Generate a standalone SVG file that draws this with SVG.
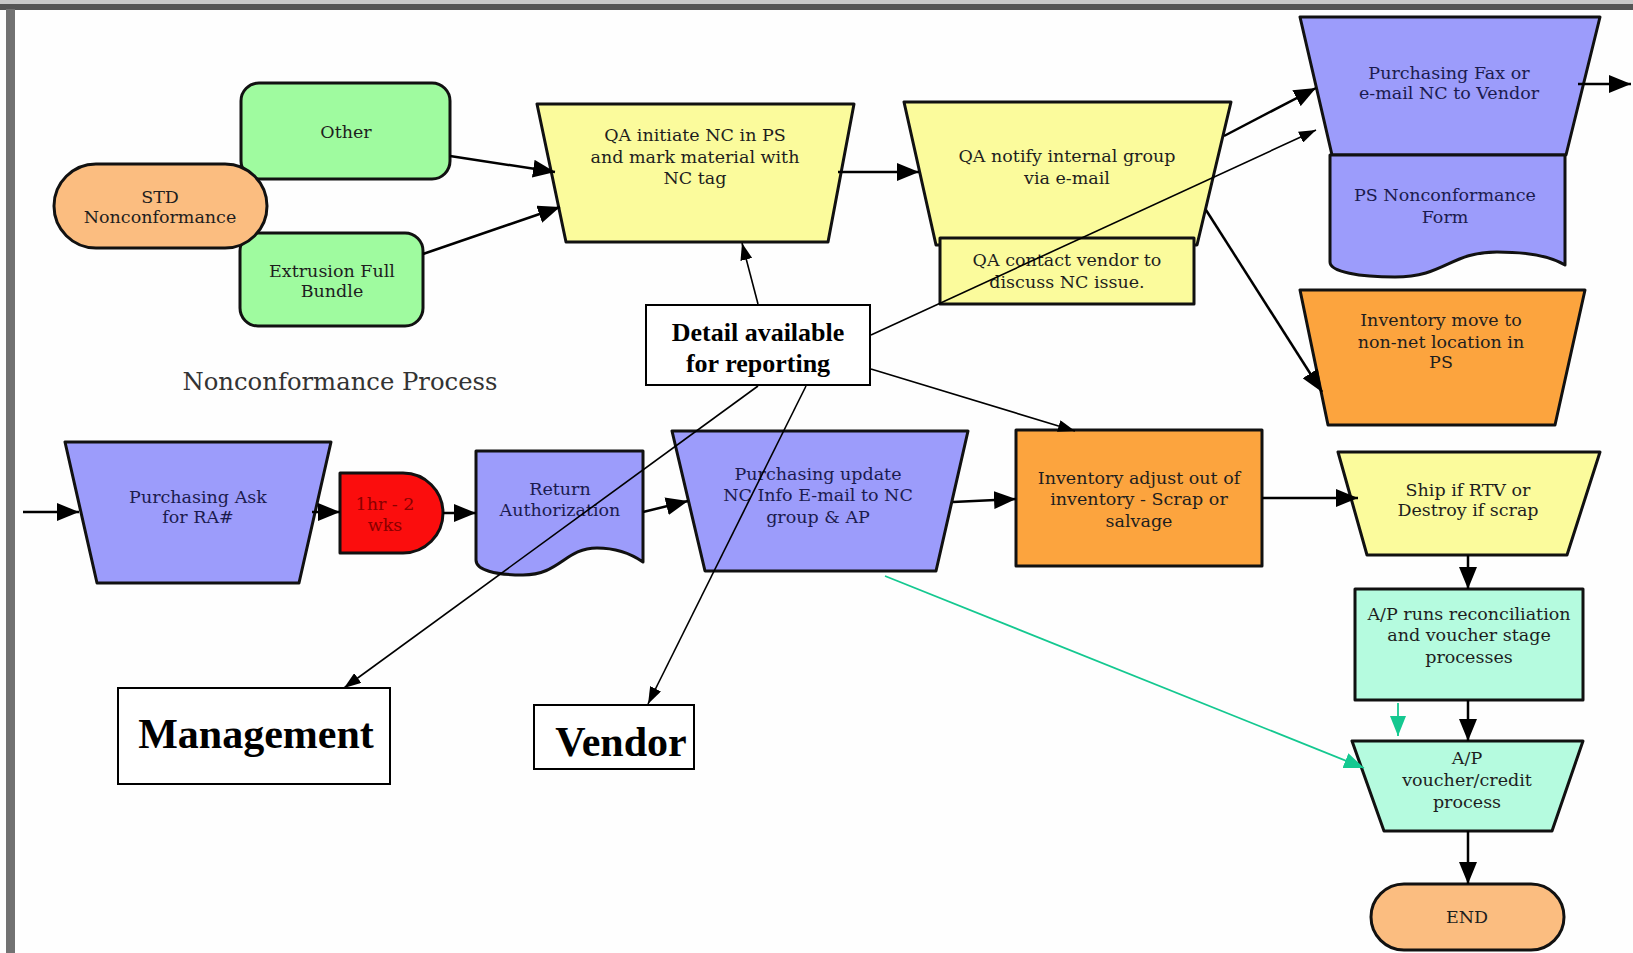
<svg xmlns="http://www.w3.org/2000/svg" width="1633" height="953" viewBox="0 0 1633 953">
<style>
.n{stroke:#111;stroke-width:3;stroke-linejoin:round}
.t{font-family:"DejaVu Serif","Liberation Serif",serif;font-size:17.5px;fill:#1e1e1e;text-anchor:middle}
.tp{fill:#1b1b4e}
.b{font-family:"Liberation Serif","Times New Roman",serif;font-weight:bold;fill:#000;text-anchor:middle}
.c{fill:none;stroke:#000;stroke-width:2.5}
.d{fill:none;stroke:#000;stroke-width:1.6}
.g{fill:none;stroke:#14c890;stroke-width:1.8}
.grn{fill:#9ffb9f}.org{fill:#fbbd80}.yel{fill:#fbfb9c}.pur{fill:#9c9cfb}.inv{fill:#fca43e}.mnt{fill:#b5fbdf}
</style>
<defs>
<marker id="ab" markerUnits="userSpaceOnUse" markerWidth="22" markerHeight="18" refX="22" refY="9" orient="auto"><path d="M0,0 L22,9 L0,18 Z" fill="#000"/></marker>
<marker id="as" markerUnits="userSpaceOnUse" markerWidth="17" markerHeight="12" refX="17" refY="6" orient="auto"><path d="M0,0 L17,6 L0,12 Z" fill="#000"/></marker>
<marker id="ag" markerUnits="userSpaceOnUse" markerWidth="20" markerHeight="16" refX="20" refY="8" orient="auto"><path d="M0,0 L20,8 L0,16 Z" fill="#14c890"/></marker>
</defs>
<rect x="0" y="0" width="1633" height="953" fill="#fefefe"/>
<rect x="0" y="0" width="1633" height="4" fill="#c9c9c9"/>
<rect x="0" y="4" width="1633" height="6" fill="#555"/>
<rect x="6" y="9" width="9" height="944" fill="#727272"/>

<g id="other"><rect class="n grn" x="241" y="83" width="209" height="96" rx="18"/><text class="t" x="346" y="138">Other</text></g>
<g id="extrusion"><rect class="n grn" x="240" y="233" width="183" height="93" rx="18"/><text class="t" x="332" y="277">Extrusion Full</text><text class="t" x="332" y="297">Bundle</text></g>
<g id="std"><rect class="n org" x="54" y="164" width="213" height="84" rx="42"/><text class="t" x="160" y="203">STD</text><text class="t" x="160" y="223">Nonconformance</text></g>

<g id="qa-initiate"><polygon class="n yel" points="537,104 854,104 828,242 566,242"/><text class="t" x="695" y="141">QA initiate NC in PS</text><text class="t" x="695" y="163">and mark material with</text><text class="t" x="695" y="184">NC tag</text></g>
<g id="qa-notify"><polygon class="n yel" points="904,102 1231,102 1197,245 936,245"/><text class="t" x="1067" y="162">QA notify internal group</text><text class="t" x="1067" y="184">via e-mail</text></g>
<g id="qa-contact"><rect class="n yel" x="940" y="238" width="254" height="66"/><text class="t" x="1067" y="266">QA contact vendor to</text><text class="t" x="1067" y="288">discuss NC issue.</text></g>

<g id="purchasing-fax"><polygon class="n pur" points="1300,17 1600,17 1566,155 1332,155"/><text class="t tp" x="1449" y="79">Purchasing Fax or</text><text class="t tp" x="1449" y="99">e-mail NC to Vendor</text></g>
<g id="ps-form"><path class="n pur" d="M1330,155 H1565 V265 C1550,256 1525,252 1497,252 C1450,252 1445,277 1395,277 C1360,277 1330,272 1330,262 Z"/><text class="t tp" x="1445" y="201">PS Nonconformance</text><text class="t tp" x="1445" y="223">Form</text></g>
<g id="inventory-move"><polygon class="n inv" points="1300,290 1585,290 1555,425 1328,425"/><text class="t" x="1441" y="326">Inventory move to</text><text class="t" x="1441" y="348">non-net location in</text><text class="t" x="1441" y="368">PS</text></g>

<g id="title"><text x="340" y="390" style="font-family:'DejaVu Serif','Liberation Serif',serif;font-size:24.3px;fill:#333;text-anchor:middle">Nonconformance Process</text></g>

<g id="detail"><rect x="646" y="305" width="224" height="80" fill="#fff" stroke="#000" stroke-width="2"/><text class="b" x="758" y="341" font-size="26">Detail available</text><text class="b" x="758" y="372" font-size="26">for reporting</text></g>

<g id="purchasing-ask"><polygon class="n pur" points="65,442 331,442 299,583 97,583"/><text class="t tp" x="198" y="503">Purchasing Ask</text><text class="t tp" x="198" y="523">for RA#</text></g>
<g id="delay"><path class="n" fill="#fb0d0d" d="M340,473 H403 A40,40 0 0 1 403,553 H340 Z"/><text class="t" x="385" y="510" style="fill:#8a0000">1hr - 2</text><text class="t" x="385" y="531" style="fill:#8a0000">wks</text></g>
<g id="return-auth"><path class="n pur" d="M476,451 H643 V562 C630,553 615,548 597,548 C565,548 560,575 523,575 C495,575 476,570 476,560 Z"/><text class="t tp" x="560" y="495">Return</text><text class="t tp" x="560" y="516">Authorization</text></g>
<g id="purchasing-update"><polygon class="n pur" points="672,431 968,431 936,571 705,571"/><text class="t tp" x="818" y="480">Purchasing  update</text><text class="t tp" x="818" y="501">NC Info E-mail to NC</text><text class="t tp" x="818" y="523">group &amp; AP</text></g>
<g id="inventory-adjust"><rect class="n inv" x="1016" y="430" width="246" height="136"/><text class="t" x="1139" y="484">Inventory adjust out of</text><text class="t" x="1139" y="505">inventory - Scrap or</text><text class="t" x="1139" y="527">salvage</text></g>
<g id="ship"><polygon class="n yel" points="1338,452 1600,452 1567,555 1367,555"/><text class="t" x="1468" y="496">Ship if RTV or</text><text class="t" x="1468" y="516">Destroy if scrap</text></g>
<g id="ap-runs"><rect class="n mnt" x="1355" y="589" width="228" height="111"/><text class="t" x="1469" y="620">A/P runs reconciliation</text><text class="t" x="1469" y="641">and voucher stage</text><text class="t" x="1469" y="663">processes</text></g>
<g id="ap-voucher"><polygon class="n mnt" points="1352,741 1583,741 1552,831 1384,831"/><text class="t" x="1467" y="764">A/P</text><text class="t" x="1467" y="786">voucher/credit</text><text class="t" x="1467" y="808">process</text></g>
<g id="end"><rect class="n org" x="1371" y="884" width="193" height="66" rx="33"/><text class="t" x="1467" y="923">END</text></g>

<g id="management"><rect x="118" y="688" width="272" height="96" fill="#fff" stroke="#000" stroke-width="2"/><text class="b" x="256" y="748" font-size="42">Management</text></g>
<g id="vendor"><rect x="534" y="705" width="160" height="64" fill="#fff" stroke="#000" stroke-width="2"/><text class="b" x="621" y="756" font-size="42">Vendor</text></g>

<g id="connectors">
<path class="c" d="M450,156 L555,172" marker-end="url(#ab)"/>
<path class="c" d="M423,254 L560,207" marker-end="url(#ab)"/>
<path class="c" d="M838,172 L919,172" marker-end="url(#ab)"/>
<path class="c" d="M1224,136 L1316,88" marker-end="url(#ab)"/>
<path class="c" d="M1206,210 L1322,392" marker-end="url(#ab)"/>
<path class="c" d="M1578,84 L1631,84" marker-end="url(#ab)"/>
<path class="d" d="M758,304 L742,243" marker-end="url(#as)"/>
<path class="d" d="M871,335 L1316,130" marker-end="url(#as)"/>
<path class="d" d="M871,369 L1075,431" marker-end="url(#as)"/>
<path class="d" d="M758,386 L344,688" marker-end="url(#as)"/>
<path class="d" d="M806,386 L648,704" marker-end="url(#as)"/>
<path class="c" d="M23,512 L79,512" marker-end="url(#ab)"/>
<path class="c" d="M312,512 L340,512" marker-end="url(#ab)"/>
<path class="c" d="M443,513 L476,513" marker-end="url(#ab)"/>
<path class="c" d="M643,512 L688,501" marker-end="url(#ab)"/>
<path class="c" d="M953,502 L1016,499" marker-end="url(#ab)"/>
<path class="c" d="M1262,498 L1358,498" marker-end="url(#ab)"/>
<path class="c" d="M1468,555 L1468,589" marker-end="url(#ab)"/>
<path class="c" d="M1468,700 L1468,741" marker-end="url(#ab)"/>
<path class="c" d="M1468,831 L1468,884" marker-end="url(#ab)"/>
<path class="g" d="M885,576 L1364,768" marker-end="url(#ag)"/>
<path class="g" d="M1398,703 L1398,736" marker-end="url(#ag)"/>
</g>
</svg>
